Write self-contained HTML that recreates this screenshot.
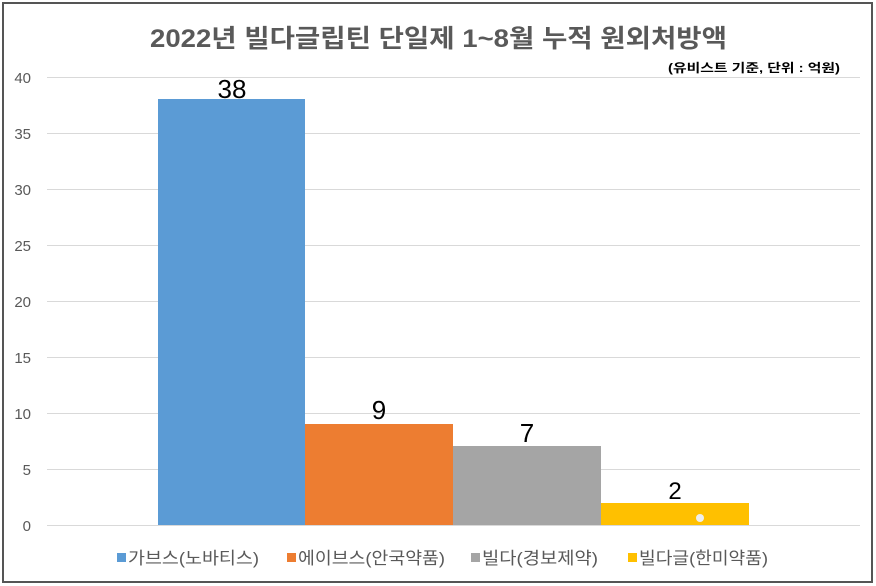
<!DOCTYPE html>
<html><head><meta charset="utf-8"><style>
body{margin:0;background:#fff;}
svg{display:block;font-family:"Liberation Sans","Noto Sans CJK KR",sans-serif;}
</style></head><body>
<svg width="876" height="586" viewBox="0 0 876 586">
<rect x="0" y="0" width="876" height="586" fill="#fff"/>
<rect x="3" y="3" width="869" height="579" fill="none" stroke="#555" stroke-width="2"/>
<text x="150" y="47" textLength="577" lengthAdjust="spacingAndGlyphs" font-size="25" font-weight="bold" fill="#595959">2022년 빌다글립틴 단일제 1~8월 누적 원외처방액</text>
<text x="668" y="72" textLength="172" lengthAdjust="spacingAndGlyphs" font-size="12" font-weight="bold" fill="#000">(유비스트 기준, 단위 : 억원)</text>
<g stroke="#d9d9d9" stroke-width="1">
<line x1="47" x2="860" y1="77.5" y2="77.5"/><line x1="47" x2="860" y1="133.5" y2="133.5"/>
<line x1="47" x2="860" y1="189.5" y2="189.5"/><line x1="47" x2="860" y1="245.5" y2="245.5"/>
<line x1="47" x2="860" y1="301.5" y2="301.5"/><line x1="47" x2="860" y1="357.5" y2="357.5"/>
<line x1="47" x2="860" y1="413.5" y2="413.5"/><line x1="47" x2="860" y1="469.5" y2="469.5"/>
<line x1="47" x2="860" y1="525.5" y2="525.5"/>
</g>
<g font-size="15" fill="#595959" text-anchor="end">
<text x="31" y="83">40</text><text x="31" y="139">35</text><text x="31" y="195">30</text>
<text x="31" y="251">25</text><text x="31" y="307">20</text><text x="31" y="363">15</text>
<text x="31" y="419">10</text><text x="31" y="475">5</text><text x="31" y="531">0</text>
</g>
<rect x="158" y="99" width="147" height="426" fill="#5b9bd5"/>
<rect x="305" y="424" width="148" height="101" fill="#ed7d31"/>
<rect x="453" y="446" width="148" height="79" fill="#a5a5a5"/>
<rect x="601" y="503" width="148" height="22" fill="#ffc000"/>
<circle cx="700" cy="518" r="4" fill="#eee"/>
<g font-size="26" fill="#000" text-anchor="middle">
<text x="232" y="98">38</text><text x="379" y="419">9</text>
<text x="527" y="442">7</text><text x="675" y="499" font-size="24">2</text>
</g>
<g font-size="17" fill="#595959">
<rect x="117" y="553" width="9" height="9" fill="#5b9bd5"/><text x="128" y="564" textLength="131" lengthAdjust="spacingAndGlyphs">가브스(노바티스)</text>
<rect x="287" y="553" width="9" height="9" fill="#ed7d31"/><text x="298" y="564" textLength="147" lengthAdjust="spacingAndGlyphs">에이브스(안국약품)</text>
<rect x="471" y="553" width="9" height="9" fill="#a5a5a5"/><text x="482" y="564" textLength="116" lengthAdjust="spacingAndGlyphs">빌다(경보제약)</text>
<rect x="628" y="553" width="9" height="9" fill="#ffc000"/><text x="639" y="564" textLength="129" lengthAdjust="spacingAndGlyphs">빌다글(한미약품)</text>
</g>
</svg>
</body></html>
